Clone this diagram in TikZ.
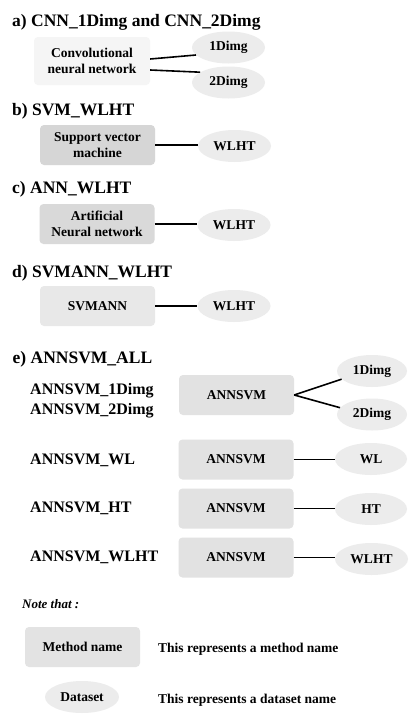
\documentclass[tikz,border=0pt]{standalone}
\usepackage{fontspec}
\setmainfont{Liberation Serif}
\usetikzlibrary{shapes.geometric,calc}
\definecolor{cnnfill}{HTML}{F5F5F5}
\definecolor{svmfill}{HTML}{D6D6D6}
\definecolor{annfill}{HTML}{D9D9D9}
\definecolor{svmannfill}{HTML}{E8E8E8}
\definecolor{annsvmfill}{HTML}{E2E2E2}
\definecolor{methodfill}{HTML}{E3E3E3}
\definecolor{ellfill}{HTML}{ECECEC}
\tikzset{
  boxnode/.style={rectangle, rounded corners=4pt, draw=none, minimum width=115pt, minimum height=40pt, inner sep=0pt, align=center, font=\bfseries\fontsize{13.5}{16}\selectfont},
  ellnode/.style={ellipse, fill=ellfill, draw=none, minimum width=73pt, minimum height=32pt, inner sep=0pt, font=\bfseries\fontsize{13.5}{16}\selectfont},
  titletext/.style={anchor=base west, inner sep=0pt, font=\bfseries\fontsize{17.5}{20}\selectfont},
  subtext/.style={anchor=base west, inner sep=0pt, font=\bfseries\fontsize{16}{19}\selectfont},
  notetext/.style={anchor=base west, inner sep=0pt, font=\bfseries\fontsize{13.5}{16}\selectfont},
  conn/.style={draw=black, line width=1.6pt}
}
\begin{document}
\begin{tikzpicture}[x=1pt,y=-1pt]
\useasboundingbox[fill=white] (0,0) rectangle (411,715);
% a)
\node[titletext] (ta) at (12,26) {a) CNN\_1Dimg and CNN\_2Dimg};
\node[boxnode, fill=cnnfill, minimum width=116pt, minimum height=48pt] (cnn) at (92,61) {Convolutional\\neural network};
\node[ellnode] (a1) at (228.5,47.5) {1Dimg};
\node[ellnode] (a2) at (228.5,82.5) {2Dimg};
\draw[conn] ($(cnn.east)+(0,-2)$) -- (a1.193);
\draw[conn] ($(cnn.east)+(0,9)$) -- (a2.160);
% b)
\node[titletext] (tb) at (12,115) {b) SVM\_WLHT};
\node[boxnode, fill=svmfill] (svm) at (97.5,145) {Support vector\\machine};
\node[ellnode] (bw) at (234.5,146) {WLHT};
\draw[conn] (svm.east) -- (svm.east -| bw.west);
% c)
\node[titletext] (tc) at (12,193) {c) ANN\_WLHT};
\node[boxnode, fill=annfill] (ann) at (97,224) {Artificial\\Neural network};
\node[ellnode] (cw) at (234,225) {WLHT};
\draw[conn] (ann.east) -- (ann.east -| cw.west);
% d)
\node[titletext] (td) at (12,277) {d) SVMANN\_WLHT};
\node[boxnode, fill=svmannfill] (svmann) at (97.5,306) {SVMANN};
\node[ellnode] (dw) at (234,306) {WLHT};
\draw[conn] (svmann.east) -- (dw.west);
% e)
\node[titletext] (te) at (12.5,363) {e) ANNSVM\_ALL};
\node[subtext] (s1) at (30,394) {ANNSVM\_1Dimg};
\node[subtext] (s2) at (30,414) {ANNSVM\_2Dimg};
\node[boxnode, fill=annsvmfill] (m1) at (236.5,395) {ANNSVM};
\node[ellnode, minimum width=70pt] (e1) at (372,371) {1Dimg};
\node[ellnode, minimum width=70pt] (e2) at (372,414.5) {2Dimg};
\draw[conn] (m1.east) -- (e1.195);
\draw[conn] (m1.east) -- (e2.168);
\node[subtext] (s3) at (30,464) {ANNSVM\_WL};
\node[boxnode, fill=annsvmfill] (m2) at (236,459.5) {ANNSVM};
\node[ellnode, minimum width=72pt] (e3) at (371,459) {WL};
\draw[conn] (m2.east) -- (m2.east -| e3.west);
\node[subtext] (s4) at (30,512) {ANNSVM\_HT};
\node[boxnode, fill=annsvmfill] (m3) at (236,508.5) {ANNSVM};
\node[ellnode, minimum width=72pt] (e4) at (371,509) {HT};
\draw[conn] (m3.east) -- (m3.east -| e4.west);
\node[subtext] (s5) at (30,561) {ANNSVM\_WLHT};
\node[boxnode, fill=annsvmfill] (m4) at (236,557.5) {ANNSVM};
\node[ellnode] (e5) at (371.5,559) {WLHT};
\draw[conn] (m4.east) -- (m4.east -| e5.west);
% note
\node[notetext, font=\bfseries\itshape\fontsize{13}{16}\selectfont] (note) at (22,608) {Note that :};
\node[boxnode, fill=methodfill] (method) at (82.5,647) {Method name};
\node[notetext] (mdesc) at (158,652) {This represents a method name};
\node[ellnode, minimum width=74pt] (dataset) at (82,697) {Dataset};
\node[notetext] (ddesc) at (158,703) {This represents a dataset name};
\end{tikzpicture}
\end{document}
